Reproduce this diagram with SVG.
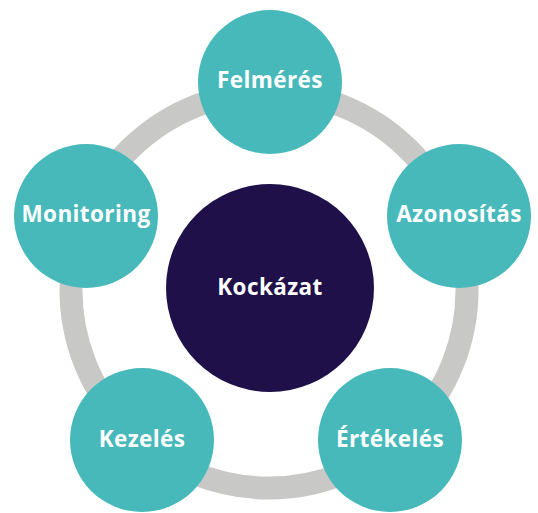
<svg xmlns="http://www.w3.org/2000/svg" width="538" height="513" viewBox="0 0 538 513">
<style>
.node{fill:#47B9BB}
.lbl{fill:#FFFFFF;font-family:"Open Sans","Liberation Sans",sans-serif;font-weight:700;font-size:22.5px;letter-spacing:0.4px;text-anchor:middle}
</style>
<rect width="538" height="513" fill="#FFFFFF"/>
<g id="connectors">
<circle cx="269" cy="290" r="198" fill="none" stroke="#C8C8C6" stroke-width="23"/>
</g>
<g id="center">
<circle cx="270" cy="288" r="104" fill="#1F1049"/>
<text class="lbl" x="270" y="295">Kockázat</text>
</g>
<g id="felmeres">
<circle class="node" cx="270" cy="82" r="72"/>
<text class="lbl" x="270" y="88">Felmérés</text>
</g>
<g id="azonositas">
<circle class="node" cx="459" cy="216" r="72"/>
<text class="lbl" x="459" y="222">Azonosítás</text>
</g>
<g id="ertekeles">
<circle class="node" cx="390" cy="440" r="72"/>
<text class="lbl" x="390" y="447">Értékelés</text>
</g>
<g id="kezeles">
<circle class="node" cx="142" cy="440" r="72"/>
<text class="lbl" x="142" y="447">Kezelés</text>
</g>
<g id="monitoring">
<circle class="node" cx="86" cy="216" r="72"/>
<text class="lbl" x="86" y="222">Monitoring</text>
</g>
</svg>
